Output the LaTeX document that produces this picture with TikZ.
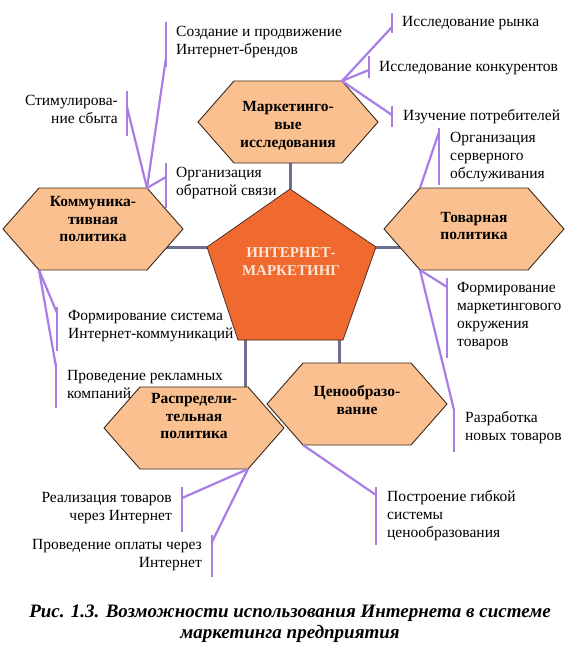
\documentclass[tikz,border=0pt]{standalone}
\usepackage{fontspec}
\setmainfont{Liberation Serif}
\usetikzlibrary{calc}
\definecolor{hexfill}{HTML}{FAC090}
\definecolor{edgecol}{HTML}{3B2A1E}
\definecolor{pentfill}{HTML}{F0692E}
\definecolor{penttext}{HTML}{FCE6D6}
\definecolor{linkcol}{HTML}{6D6F8F}
\definecolor{callcol}{HTML}{A97DE6}
\tikzset{
  hexshape/.style={fill=hexfill, draw=edgecol, line width=0.9pt, line join=miter},
  pentshape/.style={fill=pentfill, draw=edgecol, line width=0.7pt, line join=miter},
  hextext/.style={font=\fontsize{15.5}{17.8}\selectfont\bfseries, align=center, inner sep=0pt, text=black},
  penttxt/.style={font=\fontsize{15}{18}\selectfont\bfseries, align=center, inner sep=0pt, text=penttext},
  lab/.style={font=\fontsize{15.5}{18}\selectfont, inner sep=0pt, align=left, anchor=west},
  labr/.style={font=\fontsize{15.5}{18}\selectfont, inner sep=0pt, align=right, anchor=east},
  callbar/.style={draw=callcol, line width=2.4pt},
  leader/.style={draw=callcol, line width=2.2pt},
  linkline/.style={draw=linkcol, line width=3pt},
  captxt/.style={font=\fontsize{19}{21}\selectfont\bfseries\itshape, align=center, inner sep=0pt}
}
\newcommand\hexa[3]{%
  \coordinate (#1-l) at (#2-90,#3);
  \coordinate (#1-tl) at (#2-54,#3-41);
  \coordinate (#1-tr) at (#2+54,#3-41);
  \coordinate (#1-r) at (#2+90,#3);
  \coordinate (#1-br) at (#2+54,#3+41);
  \coordinate (#1-bl) at (#2-54,#3+41);
  \path[hexshape] (#1-l) -- (#1-tl) -- (#1-tr) -- (#1-r) -- (#1-br) -- (#1-bl) -- cycle;
}
\begin{document}
\begin{tikzpicture}[x=1pt,y=-1pt]
\useasboundingbox[fill=white] (0,0) rectangle (580,650);
% pentagon vertices
\coordinate (p-top) at (290,189);
\coordinate (p-right) at (376,247);
\coordinate (p-br) at (343,340);
\coordinate (p-bl) at (238,340);
\coordinate (p-left) at (207,247);
\coordinate (p-s1) at (245,320);
\coordinate (p-s2) at (339,320);
% hexagon centres
\coordinate (mkt-c) at (288,122);
\coordinate (kom-c) at (93,229);
\coordinate (tov-c) at (474,229);
\coordinate (cen-c) at (357,404);
\coordinate (ras-c) at (194,428);
% grey links (behind shapes)
\draw[linkline] (p-top) -- (p-top |- mkt-c);
\draw[linkline] (p-left) -- (p-left -| kom-c);
\draw[linkline] (p-right) -- (p-right -| tov-c);
\draw[linkline] (p-s1) -- (p-s1 |- ras-c);
\draw[linkline] (p-s2) -- (p-s2 |- cen-c);
% shapes
\hexa{mkt}{288}{122}
\hexa{kom}{93}{229}
\hexa{tov}{474}{229}
\hexa{cen}{357}{404}
\hexa{ras}{194}{428}
\path[pentshape] (p-top) -- (p-right) -- (p-br) -- (p-bl) -- (p-left) -- cycle;
% texts in shapes
\node[penttxt] (center) at (291,262) {ИНТЕРНЕТ-\\МАРКЕТИНГ};
\node[hextext] (mkt) at (288,126) {Маркетинго-\\вые\\исследования};
\node[hextext] (kom) at (93,219) {Коммуника-\\тивная\\политика};
\node[hextext] (tov) at (474,226) {Товарная\\политика};
\node[hextext] (cen) at (357,400) {Ценообразо-\\вание};
\node[hextext] (ras) at (194,416) {Распредели-\\тельная\\политика};
% callouts: bar ends and leader ends
\coordinate (c1a) at (166,22);  \coordinate (c1b) at (166,67);  \coordinate (c1e) at (166,58);
\coordinate (c2a) at (127,91);  \coordinate (c2b) at (127,136); \coordinate (c2e) at (127,107);
\coordinate (c3a) at (166,163); \coordinate (c3b) at (166,208); \coordinate (c3e) at (166,177);
\coordinate (c4a) at (392,13);  \coordinate (c4b) at (392,33);  \coordinate (c4e) at (392,27);
\coordinate (c5a) at (369,56);  \coordinate (c5b) at (369,78);  \coordinate (c5e) at (369,70);
\coordinate (c6a) at (392,106); \coordinate (c6b) at (392,127); \coordinate (c6e) at (392,115);
\coordinate (c7a) at (439,128); \coordinate (c7b) at (439,185); \coordinate (c7e) at (439,132);
\coordinate (c8a) at (447,278); \coordinate (c8b) at (447,358); \coordinate (c8e) at (447,287);
\coordinate (c9a) at (454,408); \coordinate (c9b) at (454,452); \coordinate (c9e) at (454,410);
\coordinate (c10a) at (57,307); \coordinate (c10b) at (57,351); \coordinate (c10e) at (57,313);
\coordinate (c11a) at (56,363); \coordinate (c11b) at (56,408); \coordinate (c11e) at (56,367);
\coordinate (c12a) at (182,487); \coordinate (c12b) at (182,532); \coordinate (c12e) at (182,498);
\coordinate (c13a) at (212,535); \coordinate (c13b) at (212,577); \coordinate (c13e) at (212,542);
\coordinate (c14a) at (376,487); \coordinate (c14b) at (376,545); \coordinate (c14e) at (376,495);
\foreach \i in {1,...,14} {\draw[callbar] (c\i a) -- (c\i b);}
\foreach \i in {1,2,3} {\draw[leader] (kom-tr) -- (c\i e);}
\foreach \i in {4,5,6} {\draw[leader] (mkt-tr) -- (c\i e);}
\draw[leader] (tov-tl) -- (c7e);
\foreach \i in {8,9} {\draw[leader] (tov-bl) -- (c\i e);}
\foreach \i in {10,11} {\draw[leader] (kom-bl) -- (c\i e);}
\foreach \i in {12,13} {\draw[leader] (ras-br) -- (c\i e);}
\draw[leader] (cen-bl) -- (c14e);
% labels
\node[lab] (t1) at (176,42) {Создание и продвижение\\Интернет-брендов};
\node[labr] (t2) at (118,109) {Стимулирова-\\ние сбыта};
\node[lab] (t3) at (176,183) {Организация\\обратной связи};
\node[lab] (t4) at (402,23) {Исследование рынка};
\node[lab] (t5) at (379,68) {Исследование конкурентов};
\node[lab] (t6) at (403,117) {Изучение потребителей};
\node[lab] (t7) at (450,157) {Организация\\серверного\\обслуживания};
\node[lab] (t8) at (457,316) {Формирование\\маркетингового\\окружения\\товаров};
\node[lab] (t9) at (465,428) {Разработка\\новых товаров};
\node[lab] (t10) at (68,326) {Формирование система\\Интернет-коммуникаций};
\node[lab] (t11) at (67,384) {Проведение рекламных\\компаний};
\node[labr] (t12) at (172,508) {Реализация товаров\\через Интернет};
\node[labr] (t13) at (202,555) {Проведение оплаты через\\Интернет};
\node[lab] (t14) at (387,516) {Построение гибкой\\системы\\ценообразования};
% caption
\node[captxt] (cap) at (290,624) {Рис. 1.3. Возможности использования Интернета в системе\\маркетинга предприятия};
\end{tikzpicture}
\end{document}
